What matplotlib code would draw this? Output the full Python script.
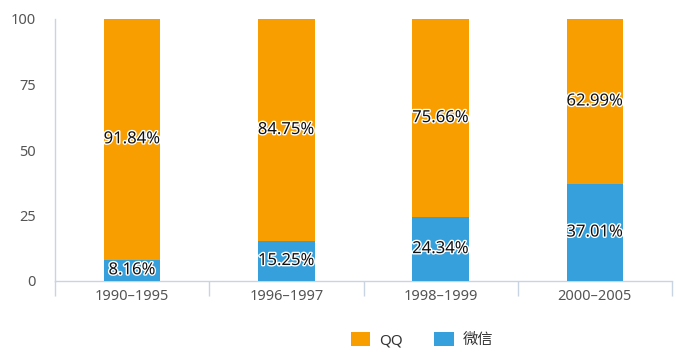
import matplotlib
matplotlib.use("Agg")
import matplotlib.pyplot as plt
import matplotlib.patheffects as pe
import numpy as np

plt.rcParams['font.family'] = ['Noto Sans', 'Noto Sans CJK SC', 'DejaVu Sans']

CATEGORIES = ["1990–1995", "1996–1997", "1998–1999", "2000–2005"]
WECHAT = [8.16, 15.25, 24.34, 37.01]
QQ = [91.84, 84.75, 75.66, 62.99]

C_QQ = "#F89E00"
C_WX = "#35A0DC"
AXIS_C = "#C9D4E2"

fig = plt.figure(figsize=(6.76, 3.56), dpi=100)
ax = fig.add_axes([55 / 676, 1 - 281 / 356, 617 / 676, 262 / 356])

x = np.arange(len(CATEGORIES))
bw = 0.365
b1 = ax.bar(x, WECHAT, width=bw, color=C_WX, label="微信", zorder=3)
b2 = ax.bar(x, QQ, width=bw, bottom=WECHAT, color=C_QQ, label="QQ", zorder=3)

stroke = [pe.withStroke(linewidth=2.0, foreground="white")]
for i in range(len(CATEGORIES)):
    ax.text(x[i], WECHAT[i] / 2, f"{WECHAT[i]:.2f}%", ha="center", va="center",
            fontsize=12, color="#111", path_effects=stroke, zorder=4)
    ax.text(x[i], WECHAT[i] + QQ[i] / 2, f"{QQ[i]:.2f}%", ha="center", va="center",
            fontsize=12, color="#111", path_effects=stroke, zorder=4)

ax.set_xlim(-0.5, len(CATEGORIES) - 0.5)
ax.set_ylim(0, 100)
ax.set_yticks([0, 25, 50, 75, 100])
ax.tick_params(axis="y", length=0, labelsize=10.5, labelcolor="#555", pad=14)

ax.set_xticks(x)
ax.set_xticklabels(CATEGORIES)
ax.tick_params(axis="x", length=0, labelsize=10.5, labelcolor="#555", pad=6)
# boundary ticks between categories
ax.set_xticks(np.arange(-0.5, len(CATEGORIES)), minor=True)
ax.tick_params(axis="x", which="minor", length=11, color=AXIS_C, width=1)

for s in ["top", "right"]:
    ax.spines[s].set_visible(False)
ax.spines["left"].set_color(AXIS_C)
ax.spines["bottom"].set_color(AXIS_C)
ax.spines["left"].set_linewidth(1)
ax.spines["bottom"].set_linewidth(1)

handles = [b2, b1]
fig.legend(handles=handles, labels=["QQ", "微信"], loc="center",
           bbox_to_anchor=(422 / 676, 1 - 340 / 356), ncol=2, frameon=False,
           fontsize=11, handlelength=1.3, handleheight=1.1, columnspacing=2.0,
           handletextpad=0.6, labelcolor="#333")

fig.savefig("out.png", dpi=100)
